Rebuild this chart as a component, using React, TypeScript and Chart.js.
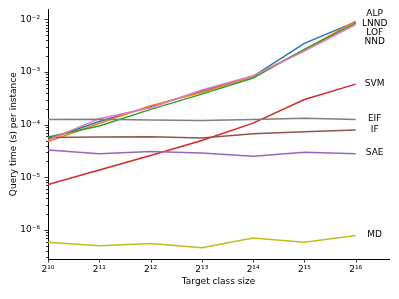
import React, { useEffect, useRef } from "react";
import { Chart, registerables } from "chart.js";
Chart.register(...registerables);

const exponents = [10, 11, 12, 13, 14, 15, 16];
const ALP = [5.3e-5, 1.15e-4, 2.2e-4, 4.3e-4, 8.3e-4, 3.5e-3, 9.0e-3];
const LNND = [4.8e-5, 1.05e-4, 2.3e-4, 4.1e-4, 8.2e-4, 2.65e-3, 9.3e-3];
const LOF = [5.8e-5, 9.4e-5, 1.95e-4, 3.8e-4, 7.7e-4, 2.7e-3, 8.5e-3];
const NND = [5.1e-5, 1.3e-4, 2.1e-4, 4.55e-4, 8.5e-4, 2.5e-3, 8.0e-3];
const SVM = [7.3e-6, 1.38e-5, 2.6e-5, 5.0e-5, 1.07e-4, 3.0e-4, 5.9e-4];
const EIF = [1.25e-4, 1.27e-4, 1.22e-4, 1.2e-4, 1.25e-4, 1.32e-4, 1.25e-4];
const IF = [5.7e-5, 5.8e-5, 5.9e-5, 5.6e-5, 6.7e-5, 7.3e-5, 7.9e-5];
const SAE = [3.3e-5, 2.8e-5, 3.1e-5, 2.9e-5, 2.5e-5, 3.0e-5, 2.8e-5];
const MD = [5.8e-7, 5.0e-7, 5.5e-7, 4.6e-7, 7.0e-7, 5.8e-7, 7.8e-7];

const seriesNames = ["ALP", "LNND", "LOF", "SVM", "SAE", "IF", "NND", "EIF", "MD"];
const seriesData = [ALP, LNND, LOF, SVM, SAE, IF, NND, EIF, MD];
const seriesColors = ["#1f77b4", "#ff7f0e", "#2ca02c", "#d62728", "#9467bd", "#8c564b", "#e377c2", "#7f7f7f", "#bcbd22"];

const labelNames = ["ALP", "LNND", "LOF", "NND", "SVM", "EIF", "IF", "SAE", "MD"];
const labelValues = [1.3e-2, 8.3e-3, 5.6e-3, 3.7e-3, 6.0e-4, 1.3e-4, 8.1e-5, 3.0e-5, 8.1e-7];

const xMin = 10;
const xMax = 16.65;
const yMin = 2.8e-7;
const yMax = 1.55e-2;

const SUP: Record<string, string> = { "0": "⁰", "1": "¹", "2": "²", "3": "³", "4": "⁴", "5": "⁵", "6": "⁶", "7": "⁷", "8": "⁸", "9": "⁹", "-": "⁻" };
const sup = (n: number) => String(n).split("").map((c) => SUP[c] || c).join("");

const FONT = '"DejaVu Sans", sans-serif';

function isMajorY(v: number) {
  const e = Math.log10(v);
  return Math.abs(e - Math.round(e)) < 1e-6;
}

const tickPlugin = {
  id: "ticksAndLabels",
  afterDraw(chart: any) {
    const ctx = chart.ctx;
    const xs = chart.scales.x;
    const ys = chart.scales.y;
    const area = chart.chartArea;
    ctx.save();
    ctx.strokeStyle = "#000";
    ctx.lineWidth = 0.8;
    ys.ticks.forEach((t: any) => {
      const py = Math.round(ys.getPixelForValue(t.value)) + 0.5;
      const len = isMajorY(t.value) ? 3.5 : 2;
      ctx.beginPath();
      ctx.moveTo(area.left - len, py);
      ctx.lineTo(area.left, py);
      ctx.stroke();
    });
    xs.ticks.forEach((t: any) => {
      const px = Math.round(xs.getPixelForValue(t.value)) + 0.5;
      ctx.beginPath();
      ctx.moveTo(px, area.bottom);
      ctx.lineTo(px, area.bottom + 3.5);
      ctx.stroke();
    });
    ctx.fillStyle = "#000";
    ctx.font = "9px " + FONT;
    ctx.textAlign = "center";
    ctx.textBaseline = "middle";
    const lx = xs.getPixelForValue(16) + 19;
    labelNames.forEach((name, i) => {
      ctx.fillText(name, lx, ys.getPixelForValue(labelValues[i]));
    });
    ctx.restore();
  },
};

export default function App() {
  const ref = useRef<HTMLCanvasElement>(null);
  useEffect(() => {
    if (!ref.current) return;
    Chart.defaults.font.family = FONT;
    const datasets = seriesNames
      .map((name, i) => ({
        label: name,
        data: exponents.map((x, j) => ({ x, y: seriesData[i][j] })),
        borderColor: seriesColors[i],
        backgroundColor: seriesColors[i],
        borderWidth: 1.5,
        pointRadius: 0,
        tension: 0,
        fill: false,
      }))
      .reverse();
    const chart = new Chart(ref.current, {
      type: "line",
      data: { datasets },
      plugins: [tickPlugin],
      options: {
        animation: false,
        responsive: false,
        devicePixelRatio: 1,
        layout: { padding: { top: 8, right: 10, left: 0, bottom: 0 } },
        plugins: { legend: { display: false }, tooltip: { enabled: false } },
        scales: {
          x: {
            type: "linear",
            min: xMin,
            max: xMax,
            afterBuildTicks: (scale: any) => {
              scale.ticks = exponents.map((v) => ({ value: v }));
            },
            afterFit: (scale: any) => {
              scale.height = 40;
            },
            ticks: {
              color: "#000",
              font: { size: 9 },
              padding: 1,
              maxRotation: 0,
              autoSkip: false,
              callback: (v: any) => "2" + sup(Number(v)),
            },
            grid: { color: "rgba(0,0,0,0)", drawOnChartArea: false, tickLength: 4 },
            border: { display: true, color: "#000", width: 1 },
            title: { display: true, text: "Target class size", color: "#000", font: { size: 9 }, padding: { top: 0, bottom: 12 } },
          },
          y: {
            type: "logarithmic",
            min: yMin,
            max: yMax,
            afterBuildTicks: (scale: any) => {
              const t: any[] = [];
              for (let e = -7; e <= -2; e++) {
                for (let m = 1; m <= 9; m++) {
                  const v = m * Math.pow(10, e);
                  if (v >= yMin && v <= yMax) t.push({ value: v });
                }
              }
              scale.ticks = t;
            },
            afterFit: (scale: any) => {
              scale.width = 48;
            },
            ticks: {
              color: "#000",
              font: { size: 9 },
              padding: 4,
              autoSkip: false,
              callback: (v: any) => {
                const n = Number(v);
                if (!isMajorY(n)) return "";
                return "10" + sup(Math.round(Math.log10(n)));
              },
            },
            grid: { color: "rgba(0,0,0,0)", drawOnChartArea: false, tickLength: 4 },
            border: { display: true, color: "#000", width: 1 },
            title: { display: true, text: "Query time (s) per instance", color: "#000", font: { size: 9 }, padding: { top: 8, bottom: 0 } },
          },
        },
      },
    });
    return () => chart.destroy();
  }, []);
  return (
    <div style={{ position: "fixed", left: 0, top: 0, width: 399, height: 299, background: "#fff" }}>
      <canvas ref={ref} width={399} height={299} />
    </div>
  );
}
